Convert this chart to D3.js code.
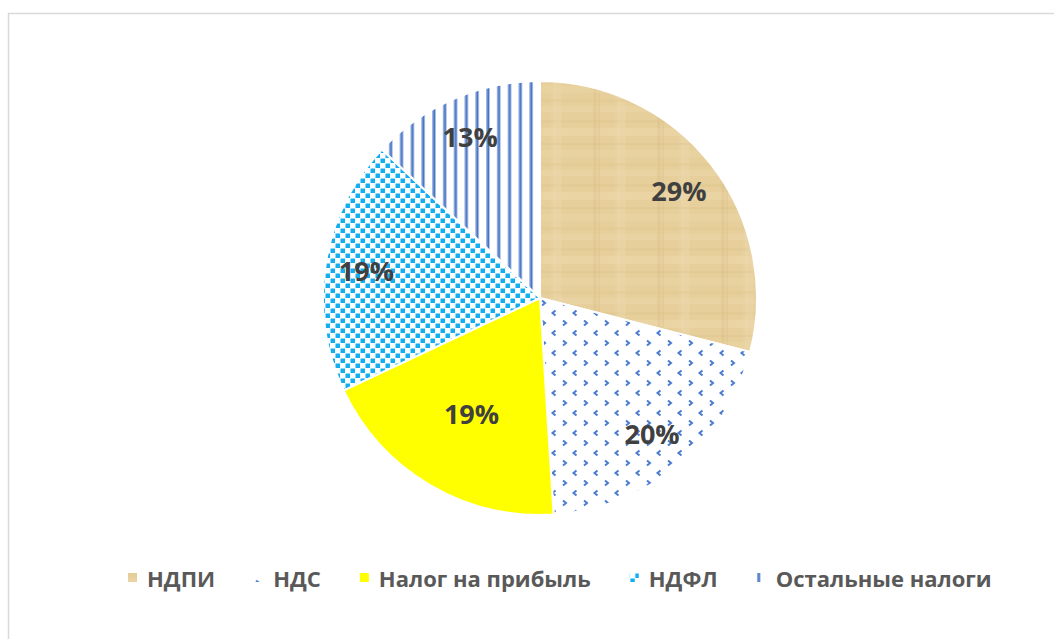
<!DOCTYPE html>
<html lang="ru">
<head>
<meta charset="utf-8">
<title>Структура налоговых поступлений</title>
<script src="https://cdn.jsdelivr.net/npm/d3@7"></script>
<style>
  body { margin: 0; background: #fff; }
  svg { display: block; font-family: "Open Sans", "DejaVu Sans", sans-serif; }
  .lbl { font-weight: 700; fill: #404040; font-size: 27px; }
  .leg text { font-weight: 700; fill: #595959; font-size: 22px; }
</style>
</head>
<body>
<script>
var categories = ["НДПИ", "НДС", "Налог на прибыль", "НДФЛ", "Остальные налоги"];
var shares = [29, 20, 19, 19, 13];
var shareLabels = ["29%", "20%", "19%", "19%", "13%"];

var w = 1054, h = 639;
var cx = 540, cy = 298, r = 217;

var svg = d3.select("body").append("svg")
  .attr("width", w)
  .attr("height", h);

// chart area frame (runs off the right and bottom edge)
svg.append("rect")
  .attr("x", 8.5).attr("y", 13.5)
  .attr("width", w + 20).attr("height", h + 20)
  .attr("fill", "none")
  .attr("stroke", "#d9d9d9")
  .attr("stroke-width", 1.5);

var defs = svg.append("defs");

// papyrus-like texture
var pap = defs.append("pattern")
  .attr("id", "fill0")
  .attr("patternUnits", "userSpaceOnUse")
  .attr("width", 64).attr("height", 64);
pap.append("rect").attr("width", 64).attr("height", 64).attr("fill", "#e7cf9c");
var papBands = [[0, 6, "#eed9ad"], [14, 3, "#dcc287"], [22, 8, "#efdcb2"], [37, 2, "#dabf84"], [44, 7, "#ebd5a6"], [57, 3, "#dfc58c"]];
papBands.forEach(function (b) {
  pap.append("rect").attr("x", 0).attr("y", b[0]).attr("width", 64).attr("height", b[1]).attr("fill", b[2]).attr("opacity", 0.35);
  pap.append("rect").attr("y", 0).attr("x", (b[0] * 3 + 11) % 64).attr("height", 64).attr("width", b[1]).attr("fill", b[2]).attr("opacity", 0.3);
});

// small blue chevrons
var chev = defs.append("pattern")
  .attr("id", "fill1")
  .attr("patternUnits", "userSpaceOnUse")
  .attr("width", 21).attr("height", 20);
chev.append("rect").attr("width", 21).attr("height", 20).attr("fill", "#fff");
chev.append("path").attr("d", "M2,2.5 L5,5 L2,7.5").attr("fill", "none").attr("stroke", "#4a7bd0").attr("stroke-width", 2);
chev.append("path").attr("d", "M15.5,12.5 L12.5,15 L15.5,17.5").attr("fill", "none").attr("stroke", "#4a7bd0").attr("stroke-width", 2);

// cyan confetti squares
var conf = defs.append("pattern")
  .attr("id", "fill3")
  .attr("patternUnits", "userSpaceOnUse")
  .attr("width", 10).attr("height", 10);
conf.append("rect").attr("width", 10).attr("height", 10).attr("fill", "#fff");
conf.append("rect").attr("x", 0.5).attr("y", 0.5).attr("width", 4.5).attr("height", 4.5).attr("fill", "#13aef0");
conf.append("rect").attr("x", 5.5).attr("y", 5.5).attr("width", 4.5).attr("height", 4.5).attr("fill", "#13aef0");

// vertical stripes
var str = defs.append("pattern")
  .attr("id", "fill4")
  .attr("patternUnits", "userSpaceOnUse")
  .attr("width", 10.8).attr("height", 10);
str.append("rect").attr("width", 10.8).attr("height", 10).attr("fill", "#fff");
str.append("rect").attr("x", 0).attr("width", 1.2).attr("height", 10).attr("fill", "#9db5e2");
str.append("rect").attr("x", 1.2).attr("width", 2.2).attr("height", 10).attr("fill", "#4472c4");

var fills = ["url(#fill0)", "url(#fill1)", "#ffff00", "url(#fill3)", "url(#fill4)"];

var pie = d3.pie().sort(null).value(function (d) { return d; });
var arcs = pie(shares);
var arc = d3.arc().innerRadius(0).outerRadius(r);

var g = svg.append("g").attr("transform", "translate(" + cx + "," + cy + ")");

g.selectAll("path.slice")
  .data(arcs)
  .enter().append("path")
  .attr("class", "slice")
  .attr("d", arc)
  .attr("fill", function (d, i) { return fills[i]; })
  .attr("stroke", "#fff")
  .attr("stroke-width", 2);

g.selectAll("text.lbl")
  .data(arcs)
  .enter().append("text")
  .attr("class", "lbl")
  .attr("text-anchor", "middle")
  .attr("dominant-baseline", "central")
  .attr("transform", function (d, i) {
    // best fit pulls the yellow slice label inward
    var lr = i === 2 ? r * 0.62 : r * 0.81;
    var c = d3.arc().innerRadius(lr).outerRadius(lr).centroid(d);
    return "translate(" + c[0] + "," + c[1] + ")";
  })
  .text(function (d, i) { return shareLabels[i]; });

// legend
var leg = svg.append("g").attr("class", "leg").attr("transform", "translate(0,578)");
var items = leg.selectAll("g")
  .data(categories)
  .enter().append("g");
items.append("rect")
  .attr("x", 0).attr("y", -5)
  .attr("width", 9).attr("height", 9)
  .attr("fill", function (d, i) { return fills[i]; });
items.append("text")
  .attr("x", 19)
  .attr("dominant-baseline", "central")
  .text(function (d) { return d; });

var xPos = 128;
items.each(function () {
  var node = d3.select(this);
  node.attr("transform", "translate(" + xPos + ",0)");
  xPos += 19 + node.select("text").node().getComputedTextLength() + 39;
});
</script>
</body>
</html>
